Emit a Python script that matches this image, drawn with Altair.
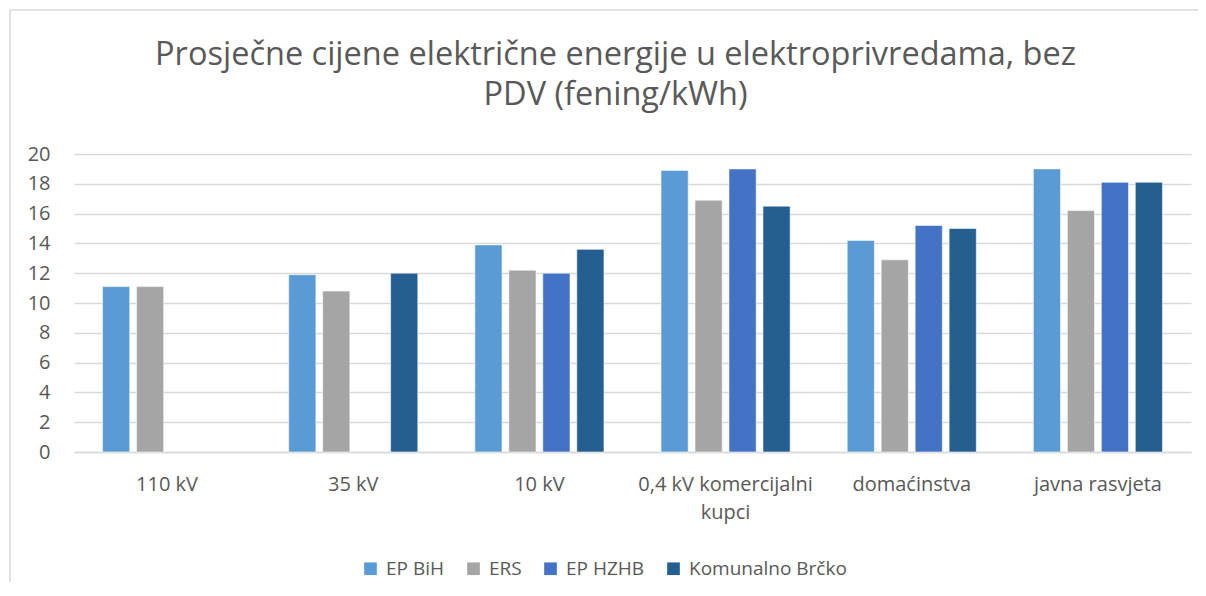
import altair as alt
import pandas as pd

categories = ["110 kV", "35 kV", "10 kV", "0,4 kV komercijalni kupci", "domaćinstva", "javna rasvjeta"]
series = ["EP BiH", "ERS", "EP HZHB", "Komunalno Brčko"]
colors = ["#5B9BD5", "#A5A5A5", "#4472C4", "#255E91"]

ep_bih = [11.1, 11.9, 13.9, 18.9, 14.2, 19.0]
ers = [11.1, 10.8, 12.2, 16.9, 12.9, 16.2]
ep_hzhb = [None, None, 12.0, 19.0, 15.2, 18.1]
komunalno = [None, 12.0, 13.6, 16.5, 15.0, 18.1]

y_ticks = [0, 2, 4, 6, 8, 10, 12, 14, 16, 18, 20]

rows = []
for name, vals in zip(series, [ep_bih, ers, ep_hzhb, komunalno]):
    for cat, v in zip(categories, vals):
        if v is not None:
            rows.append({"kategorija": cat, "serija": name, "vrijednost": v})
df = pd.DataFrame(rows)

FONT = "Open Sans"
TXT = "#595959"
GRID = "#d9d9d9"

bars = alt.Chart(df).mark_bar(stroke="#ffffff", strokeWidth=0.8, strokeOpacity=0.7).encode(
    x=alt.X(
        "kategorija:N",
        sort=categories,
        scale=alt.Scale(paddingInner=0.27, paddingOuter=0.135),
        axis=alt.Axis(
            title=None,
            labelAngle=0,
            labelFontSize=20,
            labelFont=FONT,
            labelColor=TXT,
            labelPadding=22,
            labelLimit=0,
            labelLineHeight=28,
            labelExpr="datum.label == '0,4 kV komercijalni kupci' ? ['0,4 kV komercijalni', 'kupci'] : datum.label",
            ticks=False,
            domainColor=GRID,
            domainWidth=1.5,
            grid=False,
        ),
    ),
    xOffset=alt.XOffset(
        "serija:N",
        sort=series,
        scale=alt.Scale(domain=series, paddingInner=0.2, paddingOuter=0.1),
    ),
    y=alt.Y(
        "vrijednost:Q",
        scale=alt.Scale(domain=[0, 20], nice=False),
        axis=alt.Axis(
            title=None,
            values=y_ticks,
            labelFontSize=20,
            labelFont=FONT,
            labelColor=TXT,
            labelPadding=24,
            ticks=False,
            domain=False,
            gridColor=GRID,
            gridWidth=1.5,
        ),
    ),
    color=alt.Color(
        "serija:N",
        sort=series,
        scale=alt.Scale(domain=series, range=colors),
        legend=alt.Legend(
            title=None,
            orient="none",
            direction="horizontal",
            legendX=287,
            legendY=405,
            symbolType="square",
            symbolSize=160,
            symbolStrokeWidth=0,
            labelFontSize=19,
            labelFont=FONT,
            labelColor=TXT,
            labelOffset=6,
            columnPadding=19,
        ),
    ),
)

frame_left = alt.Chart(alt.Data(values=[{}])).mark_rule(
    color=GRID, strokeWidth=1.5, clip=False
).encode(x=alt.value(-64), y=alt.value(-144), y2=alt.value(800))

frame_top = alt.Chart(alt.Data(values=[{}])).mark_rule(
    color=GRID, strokeWidth=1.5, clip=False
).encode(x=alt.value(-64), x2=alt.value(1400), y=alt.value(-144))

chart = alt.layer(frame_left, frame_top, bars).properties(
    width=1117,
    height=298,
    autosize=alt.AutoSizeParams(type="none"),
    padding={"left": 66, "top": 146, "right": 7, "bottom": 130},
    title=alt.Title(
        ["Prosječne cijene električne energije u elektroprivredama, bez", "PDV (fening/kWh)"],
        font=FONT,
        fontSize=32.5,
        fontWeight="normal",
        color=TXT,
        anchor="middle",
        dx=-17,
        offset=-102,
        lineHeight=40,
    ),
).configure_view(stroke=None)

chart.save("out.html", embed_options={"renderer": "svg", "actions": False})
